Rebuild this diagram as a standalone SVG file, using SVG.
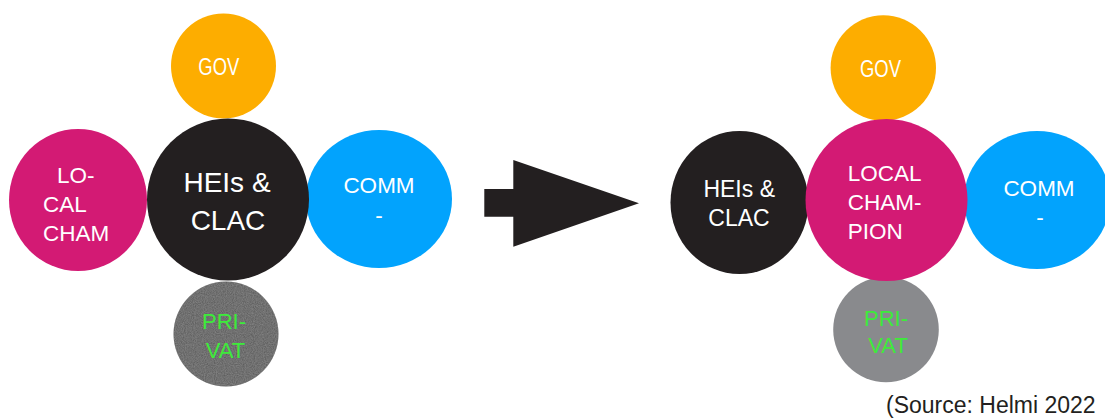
<svg xmlns="http://www.w3.org/2000/svg" width="1105" height="419" viewBox="0 0 1105 419">
<style>
text{font-family:"Liberation Sans",Arial,sans-serif;fill:#fff}
.gov{fill:#FDAD00}.mag{fill:#D31A74}.blk{fill:#231F20}.blu{fill:#02A3FD}.gry{fill:#898A8D}.dgry{fill:#5F5F5F}
.grn{fill:#3DEB3A}
</style>
<defs>
<filter id="grain" x="0" y="0" width="1" height="1">
<feTurbulence type="fractalNoise" baseFrequency="0.9" numOctaves="2" seed="3" result="n"/>
<feColorMatrix in="n" type="matrix" values="0 0 0 0 0.37  0 0 0 0 0.37  0 0 0 0 0.37  0.6 0 0 0 -0.1" result="g"/>
<feComposite in="g" in2="SourceGraphic" operator="in" result="gi"/>
<feMerge><feMergeNode in="SourceGraphic"/><feMergeNode in="gi"/></feMerge>
</filter>
</defs>
<rect width="1105" height="419" fill="#fff"/>
<!-- left cluster -->
<g id="left-gov"><circle class="gov" cx="223.5" cy="66" r="52.5"/><text x="198.3" y="75" font-size="23" textLength="41" lengthAdjust="spacingAndGlyphs">GOV</text></g>
<g id="left-local"><ellipse class="mag" cx="78" cy="200" rx="69" ry="71"/>
<text font-size="22.5"><tspan x="57" y="182.7">LO-</tspan><tspan x="43" y="211.7">CAL</tspan><tspan x="43" y="240.7">CHAM</tspan></text></g>
<g id="left-comm"><ellipse class="blu" cx="379" cy="199" rx="73" ry="69"/>
<text font-size="22.5" text-anchor="middle"><tspan x="379" y="193.3">COMM</tspan><tspan x="379" y="222.5">-</tspan></text></g>
<g id="left-privat"><circle class="dgry" cx="226" cy="334" r="52.5" filter="url(#grain)"/>
<text class="grn" font-size="22"><tspan x="202" y="329">PRI-</tspan><tspan x="205.7" y="357.7">VAT</tspan></text></g>
<g id="left-heis"><circle class="blk" cx="228" cy="199.5" r="81"/>
<text font-size="28" text-anchor="middle"><tspan x="227" y="191.7">HEIs &amp;</tspan><tspan x="228" y="229.7">CLAC</tspan></text></g>
<!-- transition arrow -->
<g id="connectors"><path class="blk" d="M484.3,189 H513.3 V160 L639,203.3 L513.3,246.7 V216.7 H484.3 Z"/></g>
<!-- right cluster -->
<g id="right-gov"><circle class="gov" cx="883.3" cy="68" r="52.7"/><text x="860" y="76.7" font-size="23" textLength="41" lengthAdjust="spacingAndGlyphs">GOV</text></g>
<g id="right-heis"><ellipse class="blk" cx="739.5" cy="202.5" rx="69" ry="71.5"/>
<text font-size="23" text-anchor="middle"><tspan x="739.2" y="197.3">HEIs &amp;</tspan><tspan x="739" y="226">CLAC</tspan></text></g>
<g id="right-comm"><ellipse class="blu" cx="1037" cy="200" rx="73" ry="69"/>
<text font-size="22.5" text-anchor="middle"><tspan x="1039" y="196">COMM</tspan><tspan x="1040" y="225">-</tspan></text></g>
<g id="right-privat"><circle class="gry" cx="886" cy="329.5" r="52.8"/>
<text class="grn" font-size="22"><tspan x="864" y="326">PRI-</tspan><tspan x="868.3" y="352.7">VAT</tspan></text></g>
<g id="right-local"><circle class="mag" cx="886.5" cy="200" r="81"/>
<text font-size="22.5"><tspan x="847.7" y="181">LOCAL</tspan><tspan x="847.7" y="210">CHAM-</tspan><tspan x="847.7" y="239">PION</tspan></text></g>
<text x="886" y="413" font-size="23" style="fill:#231F20">(Source: Helmi 2022</text>
</svg>
